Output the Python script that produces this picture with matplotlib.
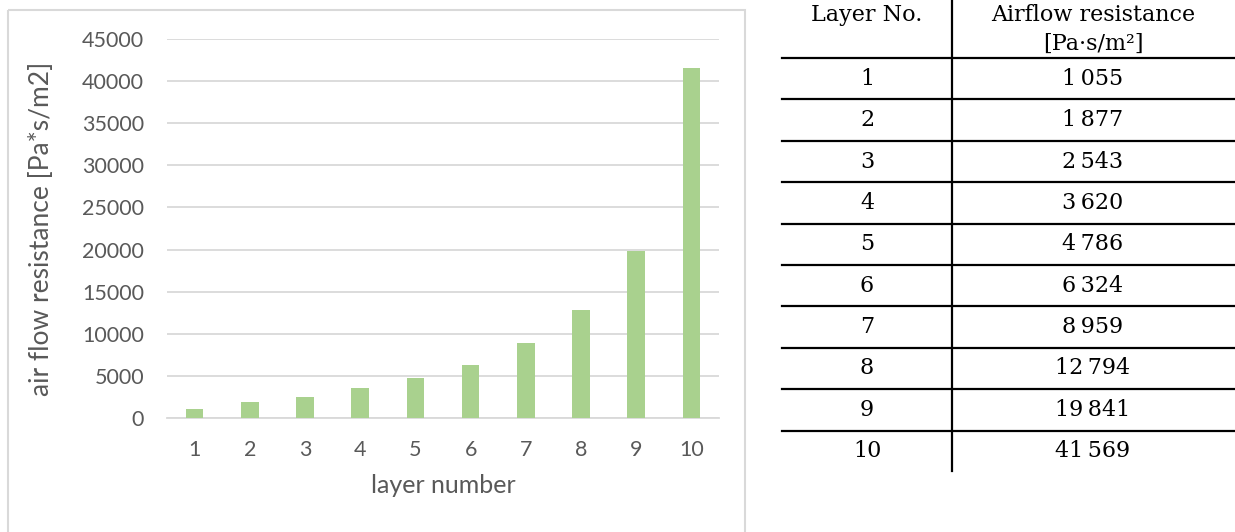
import matplotlib
matplotlib.use("Agg")
import matplotlib.pyplot as plt
from matplotlib.patches import Rectangle
from matplotlib.lines import Line2D

# airflow resistance per layer [Pa*s/m2]
layers = [1, 2, 3, 4, 5, 6, 7, 8, 9, 10]
resistance = [1055, 1877, 2543, 3620, 4786, 6324, 8959, 12794, 19841, 41569]
y_ticks = [0, 5000, 10000, 15000, 20000, 25000, 30000, 35000, 40000, 45000]

W, H = 1235, 532
fig = plt.figure(figsize=(W / 100, H / 100), dpi=100)

grey = "#595959"
light = "#D9D9D9"
green = "#A9D18E"
chart_font = "Lato"
table_font = "DejaVu Serif"

# overlay axes in pixel units for the frame and the table
ov = fig.add_axes([0, 0, 1, 1])
ov.set_xlim(0, W)
ov.set_ylim(H, 0)
ov.axis("off")
ov.add_patch(Rectangle((8, 10), 737, 540, fill=False, ec=light, lw=1.5))

# bar chart
ax = fig.add_axes([167 / W, (H - 418) / H, (719 - 167) / W, (418 - 39) / H])
ax.bar(layers, resistance, width=0.32, color=green, zorder=3)
ax.set_xlim(0.5, 10.5)
ax.set_ylim(0, 45000)
ax.set_yticks(y_ticks)
ax.set_xticks(layers)
ax.grid(axis="y", color=light, lw=1.3, zorder=0)
for s in ["top", "right", "left"]:
    ax.spines[s].set_visible(False)
ax.spines["bottom"].set_color(light)
ax.spines["bottom"].set_linewidth(1.3)
ax.tick_params(length=0, labelsize=15.5, labelcolor=grey)
ax.tick_params(axis="y", pad=16.5)
ax.tick_params(axis="x", pad=16)
for lab in ax.get_xticklabels() + ax.get_yticklabels():
    lab.set_family(chart_font)
ax.set_xlabel("layer number", fontsize=18, color=grey, family=chart_font, labelpad=10)
ax.set_ylabel("air flow resistance [Pa*s/m2]", fontsize=19, color=grey,
              family=chart_font)
ax.yaxis.set_label_coords(-0.205, 0.5)

# table on the right
col1, col2 = 867, 1093
x0, xv, x1 = 782, 952, W
top_line, row_h = 58, 41.4
tkw = dict(family=table_font, fontsize=16, color="black", ha="center", va="center")
ov.text(col1, 15, "Layer No.", **tkw)
ov.text(col2, 15, "Airflow resistance", **tkw)
ov.text(col2, 44, "[Pa·s/m²]", **tkw)
for i, (n, v) in enumerate(zip(layers, resistance)):
    y_line = top_line + i * row_h
    ov.add_line(Line2D([x0, x1], [y_line, y_line], color="black", lw=1.6))
    yc = y_line + row_h / 2
    ov.text(col1, yc, str(n), **tkw)
    ov.text(col2, yc, f"{v:,}".replace(",", "\u2009"), **tkw)
ov.add_line(Line2D([xv, xv], [0, 471], color="black", lw=1.6))

fig.savefig("out.png", dpi=100)
